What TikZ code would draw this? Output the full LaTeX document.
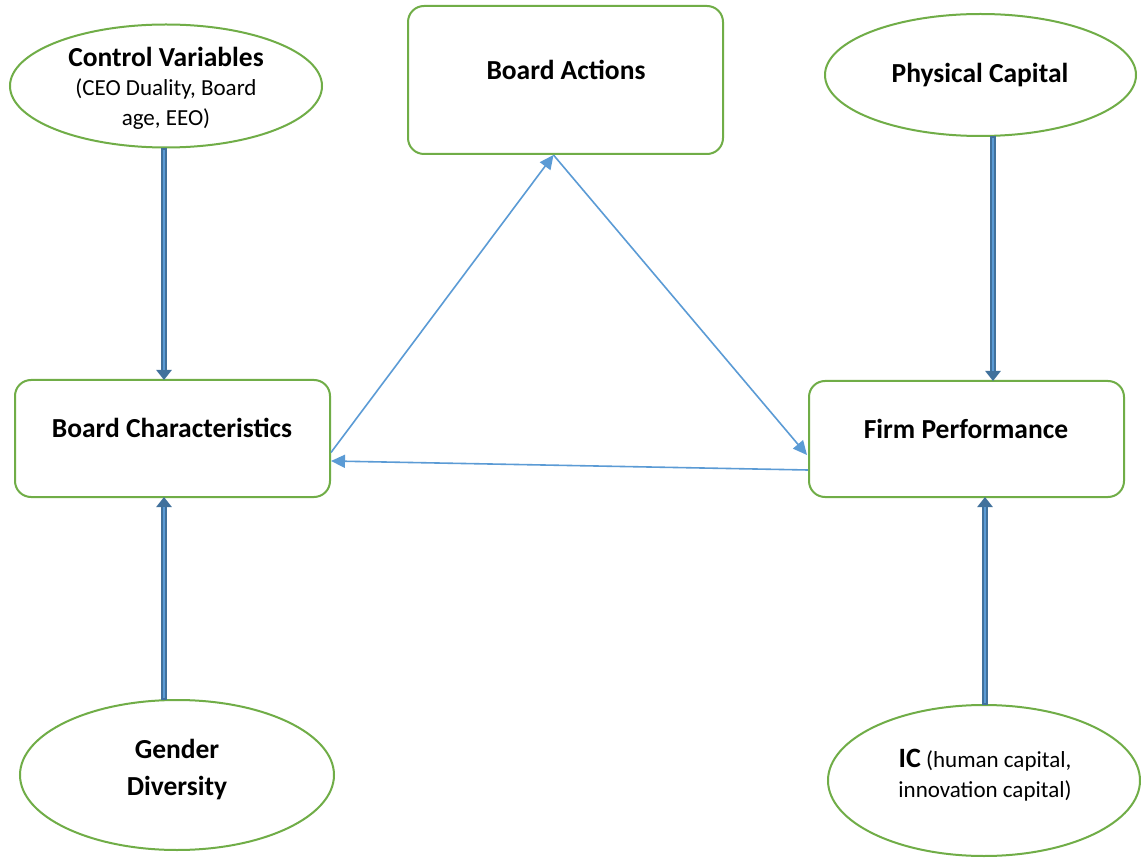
\documentclass[tikz,border=0pt]{standalone}
\usepackage{fontspec}
\setmainfont{Carlito}
\usetikzlibrary{shapes.geometric,arrows.meta,calc}
\definecolor{gborder}{RGB}{112,173,71}
\definecolor{lblue}{RGB}{91,155,213}
\definecolor{dblue}{RGB}{65,113,156}
\tikzset{
  ell/.style={draw=gborder, line width=2pt, ellipse, fill=white, inner sep=0pt, align=center},
  rbox/.style={draw=gborder, line width=2pt, rectangle, rounded corners=16pt, fill=white, inner sep=0pt, align=center, minimum width=315pt},
  bigtext/.style={font=\fontsize{27.5}{32}\selectfont\bfseries},
  smalltext/.style={font=\fontsize{23}{30}\selectfont},
  thin/.style={draw=lblue, line width=1.6pt, -{Triangle[width=13pt,length=14pt]}},
  thickout/.style={draw=dblue, line width=6.5pt, -{Triangle[width=15pt,length=10pt]}},
  thickin/.style={draw=lblue, line width=2.5pt},
}
\begin{document}
\begin{tikzpicture}[x=1pt,y=-1pt]
\useasboundingbox[fill=white] (0,0) rectangle (1141,858);
% nodes
\node[ell, minimum width=312pt, minimum height=123pt] (cv) at (166,86) {};
\node[bigtext] (cvt) at (166,57) {Control Variables};
\node[smalltext, align=center] (cvs) at (166,104) {(CEO Duality, Board\\age, EEO)};
\node[rbox, minimum height=148pt] (ba) at (565.5,80) {};
\node[bigtext] (bat) at (566,70) {Board Actions};
\node[ell, minimum width=311pt, minimum height=122pt] (pc) at (980.5,75) {};
\node[bigtext] (pct) at (980,75) {Physical Capital};
\node[rbox, minimum height=117pt] (bc) at (172.5,438.5) {};
\node[bigtext] (bct) at (172,428) {Board Characteristics};
\node[rbox, minimum height=116pt] (fp) at (966.5,439) {};
\node[bigtext] (fpt) at (966,429) {Firm Performance};
\node[ell, minimum width=314pt, minimum height=150pt] (gd) at (177,775) {};
\node[bigtext, align=center, font=\fontsize{27.5}{37}\selectfont\bfseries] (gdt) at (177,770) {Gender\\Diversity};
\node[ell, minimum width=312pt, minimum height=151pt] (ic) at (984,780.5) {};
\node[smalltext, align=center] (ict) at (985,775) {{\fontsize{28}{30}\selectfont\bfseries IC} (human capital,\\innovation capital)};
% thick arrows
\coordinate (cvb) at (164,148);
\coordinate (bct1) at (164,380);
\draw[thickout] (cvb) -- (bct1);
\draw[thickin] (164,150) -- (164,370);
\coordinate (gdt1) at (164,700);
\coordinate (bcb) at (164,497);
\draw[thickout] (gdt1) -- (bcb);
\draw[thickin] (164,698) -- (164,507);
\coordinate (pcb) at (993,136);
\coordinate (fpt1) at (993,381);
\draw[thickout] (pcb) -- (fpt1);
\draw[thickin] (993,138) -- (993,371);
\coordinate (ict1) at (985,705);
\coordinate (fpb) at (985,497);
\draw[thickout] (ict1) -- (fpb);
\draw[thickin] (985,703) -- (985,507);
% thin arrows
\draw[thin] ($(bc.east)+(0,14)$) -- ($(ba.south)+(-12,0)$);
\draw[thin] ($(ba.south)+(-12,0)$) -- ($(fp.west)+(-1,16)$);
\draw[thin] ($(fp.west)+(0,31)$) -- ($(bc.east)+(0,22.5)$);
\end{tikzpicture}
\end{document}
